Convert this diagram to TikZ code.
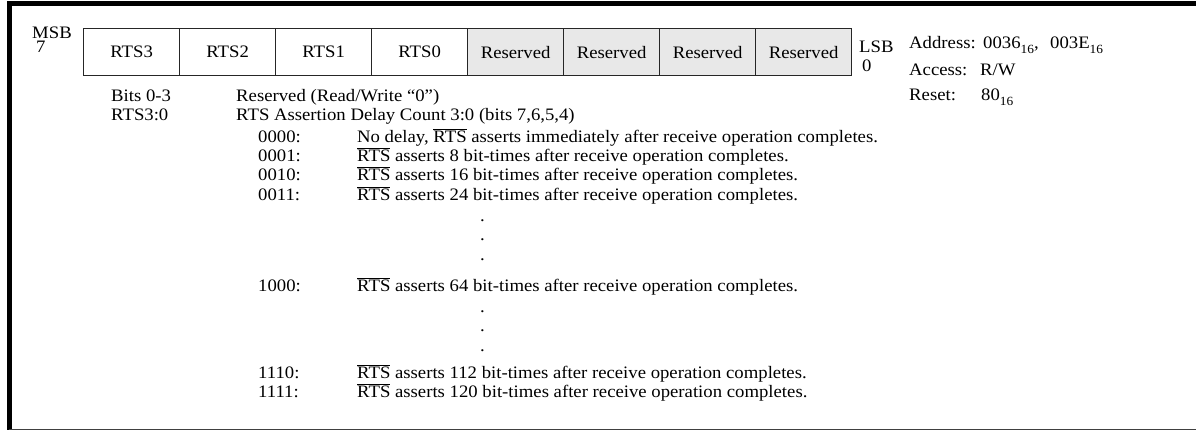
\documentclass[tikz,border=0pt]{standalone}
\usepackage{fontspec}
\setmainfont{Liberation Serif}[FakeStretch=1.07]
\newcommand{\ovl}[1]{\ensuremath{\overline{\mbox{#1}}}}
\newcommand{\mytxt}{\fontsize{17.5}{19}\selectfont}
\newcommand{\lowsub}[1]{\raisebox{-0.3em}{\fontsize{12.5}{12.5}\selectfont #1}}
\tikzset{
  regbox/.style={draw=black!85, line width=1.3pt, minimum width=96pt, minimum height=47pt,
                 inner sep=0pt, anchor=north west, font=\mytxt},
  resbox/.style={regbox, fill=gray!18},
  txt/.style={anchor=base west, inner sep=0pt, font=\mytxt},
}
\begin{document}
\begin{tikzpicture}[x=1pt,y=-1pt]
\useasboundingbox (0,0) rectangle (1196,431);
% frame
\coordinate (tl) at (9,3.5);
\coordinate (tr) at (1196,3.5);
\coordinate (bl) at (9,429.5);
\coordinate (br) at (1196,429.5);
\draw[line width=4.5pt] (tr) -- (6.5,3.5);
\draw[line width=5pt] (9,1.5) -- (9,430);
\draw[line width=1.6pt, draw=black!75] (bl) -- (br);
% register boxes
\node[regbox] (b7) at (83,28) {RTS3};
\node[regbox] (b6) at (179,28) {RTS2};
\node[regbox] (b5) at (275,28) {RTS1};
\node[regbox] (b4) at (371,28) {RTS0};
\node[resbox] (b3) at (467,28) {Reserved};
\node[resbox] (b2) at (563,28) {Reserved};
\node[resbox] (b1) at (659,28) {Reserved};
\node[resbox] (b0) at (755,28) {Reserved};
% MSB / LSB
\node[anchor=north west, inner sep=0pt, align=left, font=\fontsize{17.5}{14}\selectfont]
  (msb) at (32,26.5) {MSB\\\hspace*{4pt}7};
\node[txt] (lsb) at (859,52) {LSB};
\node[txt] (lsbn) at (862,71) {0};
% address info
\node[txt] (addr) at (909,48) {Address:};
\node[txt] (addrv1) at (983,48) {0036\lowsub{16},};
\node[txt] (addrv2) at (1050,48) {003E\lowsub{16}};
\node[txt] (acc) at (909,75) {Access:};
\node[txt] (accv) at (980,75) {R/W};
\node[txt] (rst) at (909,100) {Reset:};
\node[txt] (rstv) at (981,100) {80\lowsub{16}};
% field descriptions
\node[txt] (f1) at (111,101) {Bits 0-3};
\node[txt] (f2) at (111,120) {RTS3:0};
\node[txt] (d1) at (236,101) {Reserved (Read/Write “0”)};
\node[txt] (d2) at (236,120) {RTS Assertion Delay Count 3:0 (bits 7,6,5,4)};
% codes
\node[txt] (c0) at (258,142.5) {0000:};
\node[txt] (e0) at (357,142.5) {No delay, \ovl{RTS} asserts immediately after receive operation completes.};
\node[txt] (c1) at (258,161.5) {0001:};
\node[txt] (e1) at (357,161.5) {\ovl{RTS} asserts 8 bit-times after receive operation completes.};
\node[txt] (c2) at (258,180.5) {0010:};
\node[txt] (e2) at (357,180.5) {\ovl{RTS} asserts 16 bit-times after receive operation completes.};
\node[txt] (c3) at (258,200.5) {0011:};
\node[txt] (e3) at (357,200.5) {\ovl{RTS} asserts 24 bit-times after receive operation completes.};
\node[txt] (dot1) at (480,221) {.};
\node[txt] (dot2) at (480,240.5) {.};
\node[txt] (dot3) at (480,260) {.};
\node[txt] (c8) at (258,291.5) {1000:};
\node[txt] (e8) at (357,291.5) {\ovl{RTS} asserts 64 bit-times after receive operation completes.};
\node[txt] (dot4) at (480,312) {.};
\node[txt] (dot5) at (480,331.5) {.};
\node[txt] (dot6) at (480,351) {.};
\node[txt] (c14) at (258,378.5) {1110:};
\node[txt] (e14) at (357,378.5) {\ovl{RTS} asserts 112 bit-times after receive operation completes.};
\node[txt] (c15) at (258,397.5) {1111:};
\node[txt] (e15) at (357,397.5) {\ovl{RTS} asserts 120 bit-times after receive operation completes.};
\end{tikzpicture}
\end{document}
